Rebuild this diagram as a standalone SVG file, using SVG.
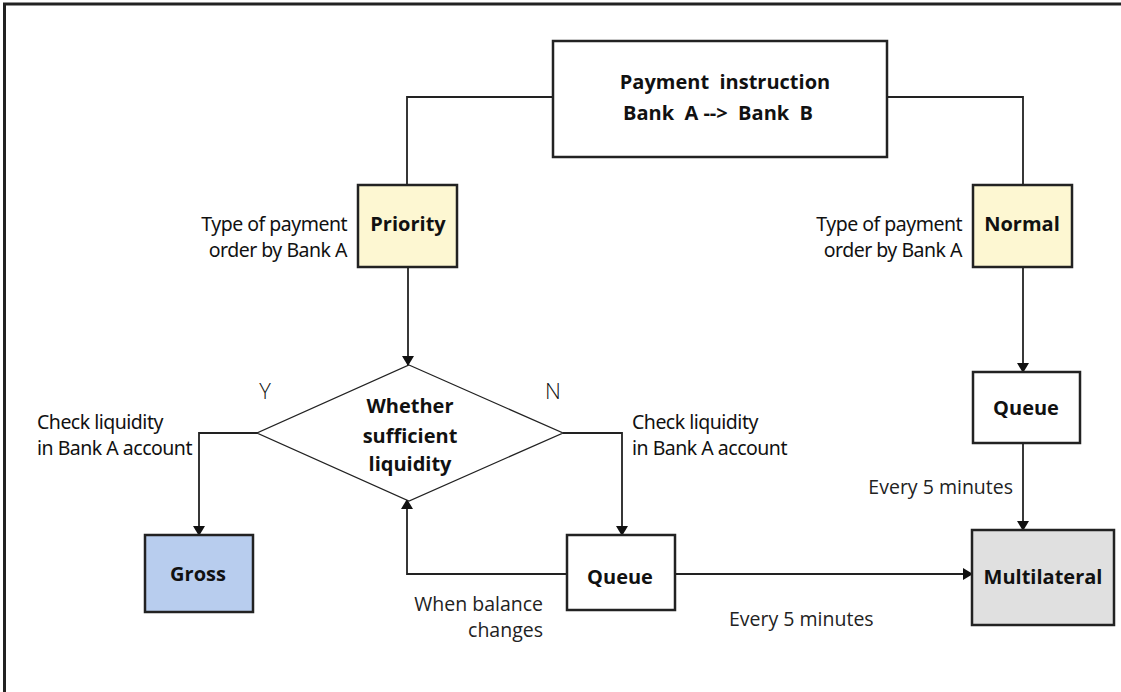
<svg xmlns="http://www.w3.org/2000/svg" width="1121" height="692" viewBox="0 0 1121 692">
<style>
.box{stroke:#222;stroke-width:2.5;}
.ln{fill:none;stroke:#222;stroke-width:1.8;}
.t{font-family:"Open Sans","Noto Sans","Liberation Sans",sans-serif;fill:#111;white-space:pre;}
.b{font-weight:bold;font-size:20px;}
.lab{font-family:"Noto Sans","Liberation Sans",sans-serif;font-size:19.5px;letter-spacing:-0.5px;fill:#111;}
.reg{font-size:19.5px;fill:#222;}
</style>
<defs>
<marker id="ah" markerWidth="10" markerHeight="12" refX="9" refY="6" orient="auto" markerUnits="userSpaceOnUse">
<path d="M0,0 L10,6 L0,12 Z" fill="#111"/>
</marker>
</defs>
<rect width="1121" height="692" fill="#fff"/>
<path d="M4.5,692 V4 H1121" fill="none" stroke="#222" stroke-width="3"/>

<g id="connectors">
<path class="ln" d="M553,97 H407 V185"/>
<path class="ln" d="M887,97 H1023 V185"/>
<path class="ln" d="M408,267 V365" marker-end="url(#ah)"/>
<path class="ln" d="M1023,267 V372" marker-end="url(#ah)"/>
<path class="ln" d="M258,433 H199 V535" marker-end="url(#ah)"/>
<path class="ln" d="M563,433 H622 V535" marker-end="url(#ah)"/>
<path class="ln" d="M567,574 H407 V500" marker-end="url(#ah)"/>
<path class="ln" d="M675,574 H972" marker-end="url(#ah)"/>
<path class="ln" d="M1023,443 V530" marker-end="url(#ah)"/>
</g>

<g id="payment">
<rect class="box" x="553" y="41" width="334" height="116" fill="#fff"/>
<text class="t b" x="725" y="89" text-anchor="middle">Payment  instruction</text>
<text class="t b" x="718" y="120" text-anchor="middle">Bank  A --&gt;  Bank  B</text>
</g>

<g id="priority">
<rect class="box" x="358" y="185" width="99" height="82" fill="#fdf7d2"/>
<text class="t b" x="408" y="231" text-anchor="middle" font-size="18">Priority</text>
<text class="lab" x="347" y="231" text-anchor="end">Type of payment</text>
<text class="lab" x="347" y="257" text-anchor="end">order by Bank A</text>
</g>

<g id="normal">
<rect class="box" x="973" y="185" width="99" height="82" fill="#fdf7d2"/>
<text class="t b" x="1022" y="231" text-anchor="middle" font-size="18.3">Normal</text>
<text class="lab" x="962" y="231" text-anchor="end">Type of payment</text>
<text class="lab" x="962" y="257" text-anchor="end">order by Bank A</text>
</g>

<g id="decision">
<polygon points="409,365 563,433 409,501 257,433" fill="#fff" stroke="#222" stroke-width="1.3"/>
<text class="t b" x="410" y="413" text-anchor="middle" font-size="20.5">Whether</text>
<text class="t b" x="410" y="443" text-anchor="middle" font-size="20.5">sufficient</text>
<text class="t b" x="410" y="471" text-anchor="middle" font-size="20.5">liquidity</text>
<text class="t" x="265" y="399" font-size="22" font-weight="300" fill="#444" text-anchor="middle">Y</text>
<text class="t" x="553" y="399" font-size="22" font-weight="300" fill="#444" text-anchor="middle">N</text>
<text class="lab" x="37" y="429">Check liquidity</text>
<text class="lab" x="37" y="455">in Bank A account</text>
<text class="lab" x="632" y="429">Check liquidity</text>
<text class="lab" x="632" y="455">in Bank A account</text>
</g>

<g id="gross">
<rect class="box" x="145" y="535" width="108" height="77" fill="#b8cdee"/>
<text class="t b" x="198" y="581" text-anchor="middle" font-size="21.5" fill="#111a33">Gross</text>
</g>

<g id="queue1">
<rect class="box" x="567" y="535" width="108" height="75" fill="#fff"/>
<text class="t b" x="620" y="584" text-anchor="middle" font-size="21.5">Queue</text>
<text class="t reg" x="543" y="611" text-anchor="end">When balance</text>
<text class="t reg" x="543" y="637" text-anchor="end">changes</text>
<text class="t reg" x="729" y="626">Every 5 minutes</text>
</g>

<g id="queue2">
<rect class="box" x="973" y="372" width="107" height="71" fill="#fff"/>
<text class="t b" x="1026" y="415" text-anchor="middle" font-size="21.5">Queue</text>
<text class="t reg" x="1013" y="494" text-anchor="end">Every 5 minutes</text>
</g>

<g id="multilateral">
<rect class="box" x="972" y="530" width="142" height="95" fill="#e0e0e0"/>
<text class="t b" x="1043" y="584" text-anchor="middle" font-size="17.6">Multilateral</text>
</g>
</svg>
